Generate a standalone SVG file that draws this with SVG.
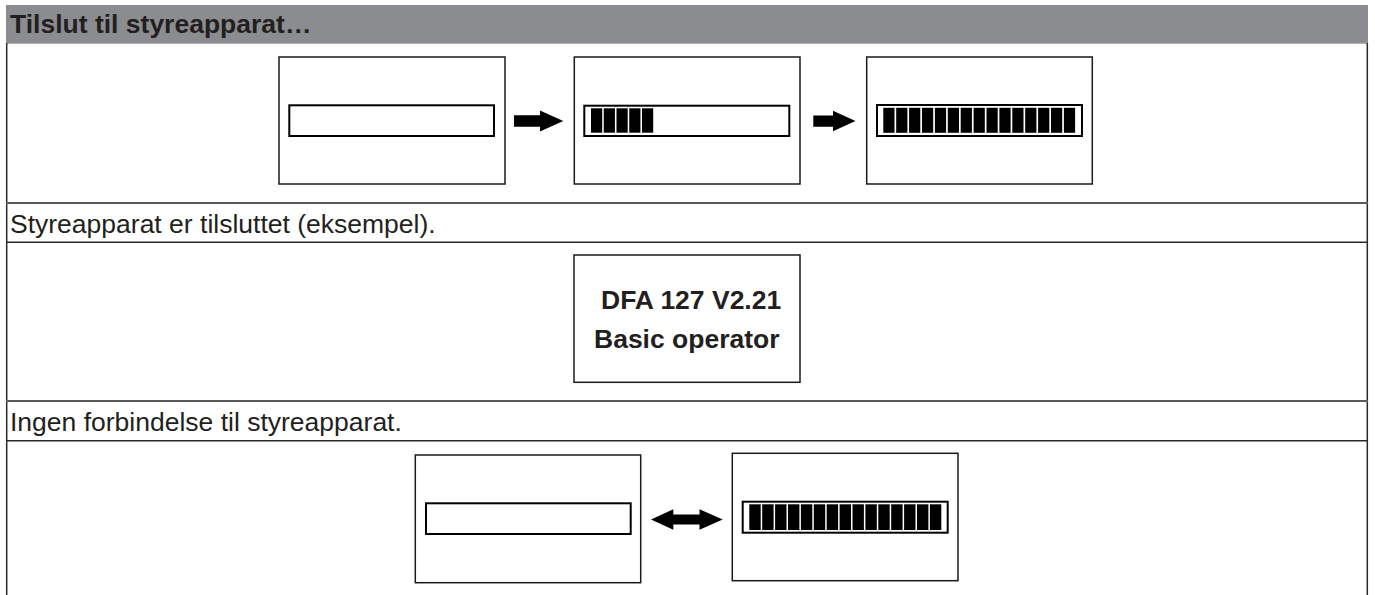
<svg xmlns="http://www.w3.org/2000/svg" width="1375" height="595" viewBox="0 0 1375 595">
<style>
.txt{font-family:"Liberation Sans",Arial,sans-serif;font-size:26.5px;fill:#231f20}
.b{font-weight:bold}
.box{fill:#fff;stroke:#1a1a1a;stroke-width:1.5}
.bar{fill:#fff;stroke:#000;stroke-width:2}
.seg{fill:#000}
.arr{fill:#000}
.rowA{stroke:#5a5a5a;stroke-width:2}
.rowB{stroke:#2a2a2a;stroke-width:1.5}
.border{stroke:#2a2a2a;stroke-width:1.5}
</style>
<rect width="1375" height="595" fill="#fff"/>
<g id="table">
  <rect x="6" y="5" width="1362" height="38" fill="#8b8c8f"/>
  <line x1="6" y1="43.5" x2="1368" y2="43.5" stroke="#b5b5b5" stroke-width="1"/>
  <line class="border" x1="6.7" y1="43" x2="6.7" y2="595"/>
  <line class="border" x1="1367.3" y1="43" x2="1367.3" y2="595"/>
  <line class="rowA" x1="6" y1="203" x2="1368" y2="203"/>
  <line class="rowB" x1="6" y1="242.3" x2="1368" y2="242.3"/>
  <line class="rowA" x1="6" y1="401" x2="1368" y2="401"/>
  <line class="rowB" x1="6" y1="440.7" x2="1368" y2="440.7"/>
  <text class="txt b" x="10" y="33.3">Tilslut til styreapparat…</text>
  <text class="txt" x="10" y="232.5">Styreapparat er tilsluttet (eksempel).</text>
  <text class="txt" x="10" y="430.5">Ingen forbindelse til styreapparat.</text>
</g>
<g id="display-empty-1">
  <rect class="box" x="279" y="57" width="226" height="127"/>
  <rect class="bar" x="289.3" y="105.3" width="204.7" height="30.7"/>
</g>
<g id="display-partial">
  <rect class="box" x="574.3" y="57" width="225.7" height="127"/>
  <rect class="bar" x="584.3" y="105.7" width="205" height="30.3"/>
  <rect class="seg" x="591" y="108.3" width="11.2" height="24.4"/>
  <rect class="seg" x="603.75" y="108.3" width="11.2" height="24.4"/>
  <rect class="seg" x="616.5" y="108.3" width="11.2" height="24.4"/>
  <rect class="seg" x="629.25" y="108.3" width="11.2" height="24.4"/>
  <rect class="seg" x="642" y="108.3" width="11.2" height="24.4"/>
</g>
<g id="display-full-1">
  <rect class="box" x="866.7" y="57" width="225.6" height="127"/>
  <rect class="bar" x="877" y="105" width="205" height="31"/>
  <rect class="seg" x="883.3" y="107.8" width="11.2" height="25"/>
  <rect class="seg" x="896.2" y="107.8" width="11.2" height="25"/>
  <rect class="seg" x="909.1" y="107.8" width="11.2" height="25"/>
  <rect class="seg" x="922.0" y="107.8" width="11.2" height="25"/>
  <rect class="seg" x="934.9" y="107.8" width="11.2" height="25"/>
  <rect class="seg" x="947.8" y="107.8" width="11.2" height="25"/>
  <rect class="seg" x="960.7" y="107.8" width="11.2" height="25"/>
  <rect class="seg" x="973.6" y="107.8" width="11.2" height="25"/>
  <rect class="seg" x="986.5" y="107.8" width="11.2" height="25"/>
  <rect class="seg" x="999.4" y="107.8" width="11.2" height="25"/>
  <rect class="seg" x="1012.3" y="107.8" width="11.2" height="25"/>
  <rect class="seg" x="1025.2" y="107.8" width="11.2" height="25"/>
  <rect class="seg" x="1038.1" y="107.8" width="11.2" height="25"/>
  <rect class="seg" x="1051.0" y="107.8" width="11.2" height="25"/>
  <rect class="seg" x="1063.9" y="107.8" width="11.2" height="25"/>
</g>
<g id="display-info">
  <rect class="box" x="574" y="255" width="226" height="127.3"/>
  <text class="txt b" x="601" y="309.3" fill="#000">DFA 127 V2.21</text>
  <text class="txt b" x="594" y="347.7" fill="#000">Basic operator</text>
</g>
<g id="display-empty-2">
  <rect class="box" x="415.3" y="455" width="225.4" height="127.7"/>
  <rect class="bar" x="426" y="503.3" width="204.7" height="30.7"/>
</g>
<g id="display-full-2">
  <rect class="box" x="732.3" y="453.3" width="225.7" height="127.4"/>
  <rect class="bar" x="742.7" y="501.7" width="205" height="31"/>
  <rect class="seg" x="749.3" y="504.3" width="11.4" height="25.7"/>
  <rect class="seg" x="762.2" y="504.3" width="11.4" height="25.7"/>
  <rect class="seg" x="775.1" y="504.3" width="11.4" height="25.7"/>
  <rect class="seg" x="788.0" y="504.3" width="11.4" height="25.7"/>
  <rect class="seg" x="800.9" y="504.3" width="11.4" height="25.7"/>
  <rect class="seg" x="813.8" y="504.3" width="11.4" height="25.7"/>
  <rect class="seg" x="826.7" y="504.3" width="11.4" height="25.7"/>
  <rect class="seg" x="839.6" y="504.3" width="11.4" height="25.7"/>
  <rect class="seg" x="852.5" y="504.3" width="11.4" height="25.7"/>
  <rect class="seg" x="865.4" y="504.3" width="11.4" height="25.7"/>
  <rect class="seg" x="878.3" y="504.3" width="11.4" height="25.7"/>
  <rect class="seg" x="891.2" y="504.3" width="11.4" height="25.7"/>
  <rect class="seg" x="904.1" y="504.3" width="11.4" height="25.7"/>
  <rect class="seg" x="917.0" y="504.3" width="11.4" height="25.7"/>
  <rect class="seg" x="929.9" y="504.3" width="11.4" height="25.7"/>
</g>
<g id="connectors">
  <polygon class="arr" points="514,115.2 540,115.2 540,110.5 563.3,121 540,131.5 540,126.8 514,126.8"/>
  <polygon class="arr" points="813.3,115.5 833,115.5 833,110.7 855.5,121 833,131.3 833,126.8 813.3,126.8"/>
  <polygon class="arr" points="651,519.5 673.3,509.3 673.3,514.5 699.5,514.5 699.5,509.3 722.7,519.5 699.5,529.7 699.5,524.5 673.3,524.5 673.3,529.7"/>
</g>
</svg>
